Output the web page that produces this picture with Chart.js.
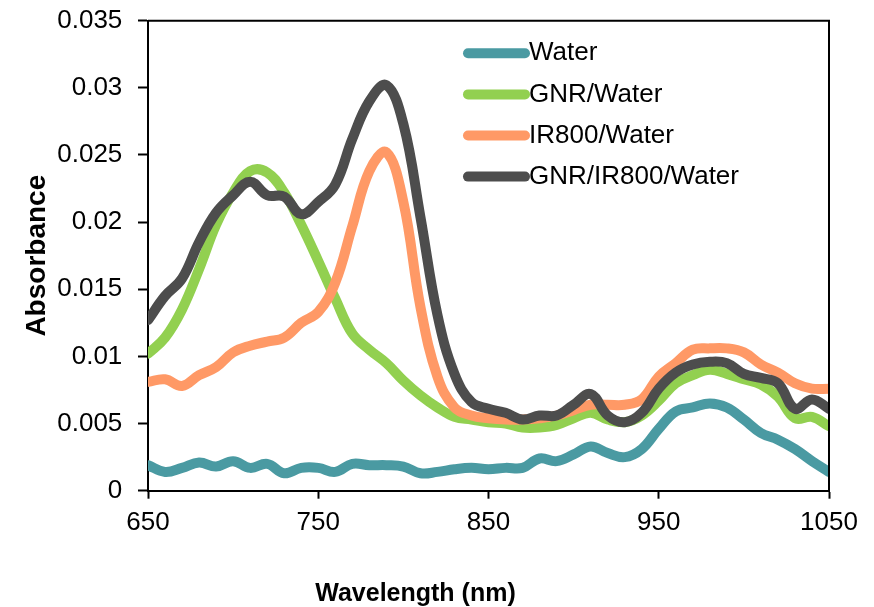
<!DOCTYPE html>
<html>
<head>
<meta charset="utf-8">
<title>Absorbance spectra</title>
<script src="https://cdn.jsdelivr.net/npm/chart.js@4.4.1/dist/chart.umd.min.js"></script>
<style>
  html, body { margin: 0; padding: 0; background: #ffffff; }
  #wrap { width: 874px; height: 607px; position: relative; }
</style>
</head>
<body>
<div id="wrap"><canvas id="chart" width="874" height="607"></canvas></div>
<script>
// Wavelength grid (nm)
const wavelengths = [650, 660, 670, 680, 690, 700, 710, 720, 730, 740,
                     750, 760, 770, 780, 790, 800, 810, 820, 830, 840,
                     850, 860, 870, 880, 890, 900, 910, 920, 930, 940,
                     950, 960, 970, 980, 990, 1000, 1010, 1020, 1030, 1040, 1050];

// Absorbance of each sample
const water = [0.0019, 0.0014, 0.0017, 0.0021, 0.0018, 0.0022, 0.0017, 0.0020, 0.0013, 0.0017,
               0.0017, 0.0014, 0.0020, 0.0019, 0.0019, 0.0018, 0.0013, 0.0014, 0.0016, 0.0017,
               0.0016, 0.0017, 0.0017, 0.0024, 0.0022, 0.0027, 0.0033, 0.0028, 0.0025, 0.0031,
               0.0046, 0.0059, 0.0062, 0.0065, 0.0062, 0.0053, 0.0043, 0.0038, 0.0031, 0.0022, 0.0014];

const gnrWater = [0.0102, 0.0114, 0.0135, 0.0165, 0.0198, 0.0222, 0.0238, 0.0237, 0.0222, 0.0198,
                  0.0171, 0.0143, 0.0117, 0.0105, 0.0095, 0.0082, 0.0071, 0.0062, 0.0055, 0.0053,
                  0.0051, 0.0050, 0.0047, 0.0047, 0.0049, 0.0054, 0.0058, 0.0053, 0.0051, 0.0056,
                  0.0067, 0.0080, 0.0086, 0.0090, 0.0087, 0.0083, 0.0079, 0.0070, 0.0054, 0.0055, 0.0048];

const ir800Water = [0.0081, 0.0083, 0.0078, 0.0086, 0.0092, 0.0103, 0.0108, 0.0111, 0.0114, 0.0125,
                    0.0133, 0.0155, 0.0197, 0.0238, 0.0252, 0.0215, 0.0137, 0.0085, 0.0062, 0.0056,
                    0.0054, 0.0053, 0.0053, 0.0054, 0.0056, 0.0060, 0.0064, 0.0064, 0.0064, 0.0068,
                    0.0085, 0.0095, 0.0105, 0.0106, 0.0106, 0.0103, 0.0094, 0.0088, 0.0080, 0.0076, 0.0076];

const gnrIr800Water = [0.0127, 0.0145, 0.0158, 0.0185, 0.0207, 0.0220, 0.0230, 0.0220, 0.0219, 0.0206,
                       0.0215, 0.0228, 0.0262, 0.0290, 0.0302, 0.0273, 0.0204, 0.0131, 0.0087, 0.0066,
                       0.0061, 0.0058, 0.0053, 0.0056, 0.0056, 0.0064, 0.0072, 0.0056, 0.0051, 0.0058,
                       0.0076, 0.0088, 0.0094, 0.0096, 0.0095, 0.0087, 0.0084, 0.0080, 0.0061, 0.0068, 0.0061];

const seriesNames = ['Water', 'GNR/Water', 'IR800/Water', 'GNR/IR800/Water'];

// Axis ticks
const xTickValues = [650, 750, 850, 950, 1050];
const xTickLabels = ['650', '750', '850', '950', '1050'];
const yTickValues = [0, 0.005, 0.01, 0.015, 0.02, 0.025, 0.03, 0.035];
const yTickLabels = ['0', '0.005', '0.01', '0.015', '0.02', '0.025', '0.03', '0.035'];

const FONT = "'Liberation Sans', Arial, Helvetica, sans-serif";
const colors = ['#4A9AA2', '#92D050', '#FF9966', '#4D4D4D'];

const toPoints = vals => wavelengths.map((w, i) => ({ x: w, y: vals[i] }));
const allSeries = [water, gnrWater, ir800Water, gnrIr800Water];

const datasets = allSeries.map((vals, i) => ({
  label: seriesNames[i],
  data: toPoints(vals),
  borderColor: colors[i],
  backgroundColor: colors[i],
  borderWidth: 10,
  borderCapStyle: 'round',
  borderJoinStyle: 'round',
  pointRadius: 0,
  pointHoverRadius: 0,
  tension: 0.4,
  fill: false,
  order: allSeries.length - i   // later series are painted on top
}));

// Top and right edges of the plot frame
const framePlugin = {
  id: 'plotFrame',
  afterDraw(chart) {
    const { ctx, chartArea: a } = chart;
    ctx.save();
    ctx.strokeStyle = '#000';
    ctx.lineWidth = 2;
    ctx.beginPath();
    ctx.moveTo(a.left, a.top);
    ctx.lineTo(a.right, a.top);
    ctx.lineTo(a.right, a.bottom);
    ctx.stroke();
    ctx.restore();
  }
};

// Vertical legend inside the plot, one row per dataset
const legendPlugin = {
  id: 'insetLegend',
  afterDraw(chart) {
    const { ctx, chartArea: a } = chart;
    const x0 = a.left + 320, x1 = a.left + 377, textX = a.left + 381;
    const y0 = a.top + 32.6, dy = 41.1;
    ctx.save();
    chart.data.datasets.forEach((ds, i) => {
      const y = y0 + i * dy;
      ctx.strokeStyle = ds.borderColor;
      ctx.lineWidth = 10;
      ctx.lineCap = 'round';
      ctx.beginPath();
      ctx.moveTo(x0, y);
      ctx.lineTo(x1, y);
      ctx.stroke();
      ctx.fillStyle = '#000';
      ctx.font = '26px ' + FONT;
      ctx.textAlign = 'left';
      ctx.textBaseline = 'middle';
      ctx.fillText(ds.label, textX, y);
    });
    ctx.restore();
  }
};

// Horizontal axis title
const xTitlePlugin = {
  id: 'xTitle',
  afterDraw(chart) {
    const { ctx } = chart;
    ctx.save();
    ctx.fillStyle = '#000';
    ctx.font = 'bold 25px ' + FONT;
    ctx.textAlign = 'center';
    ctx.textBaseline = 'middle';
    ctx.fillText('Wavelength (nm)', 415.5, 594);
    ctx.restore();
  }
};

new Chart(document.getElementById('chart'), {
  type: 'line',
  data: { datasets },
  options: {
    responsive: false,
    animation: false,
    layout: { padding: { top: 20.7, right: 45, bottom: 0, left: 0 } },
    plugins: {
      legend: { display: false },
      tooltip: { enabled: false },
      title: { display: false }
    },
    scales: {
      x: {
        type: 'linear',
        min: 650,
        max: 1050,
        afterBuildTicks: s => { s.ticks = xTickValues.map(v => ({ value: v })); },
        afterFit: s => { s.height = 116.3; },
        ticks: {
          color: '#000',
          font: { family: FONT, size: 26 },
          padding: 9,
          maxRotation: 0,
          callback: v => xTickLabels[xTickValues.indexOf(v)]
        },
        grid: {
          display: true,
          drawOnChartArea: false,
          drawTicks: true,
          tickLength: 8,
          tickWidth: 2,
          tickColor: '#000'
        },
        border: { display: true, color: '#000', width: 2 }
      },
      y: {
        type: 'linear',
        min: 0,
        max: 0.035,
        afterBuildTicks: s => { s.ticks = yTickValues.map(v => ({ value: v })); },
        afterFit: s => { s.width = 148; s.paddingTop = 0; s.paddingBottom = 0; },
        ticks: {
          color: '#000',
          font: { family: FONT, size: 26 },
          padding: 15.7,
          callback: v => {
            const i = yTickValues.findIndex(t => Math.abs(t - v) < 1e-9);
            return i >= 0 ? yTickLabels[i] : '';
          }
        },
        grid: {
          display: true,
          drawOnChartArea: false,
          drawTicks: true,
          tickLength: 10,
          tickWidth: 2,
          tickColor: '#000'
        },
        border: { display: true, color: '#000', width: 2 },
        title: {
          display: true,
          text: 'Absorbance',
          color: '#000',
          font: { family: FONT, size: 28, weight: 'bold' },
          padding: { top: 20, bottom: 0 }
        }
      }
    }
  },
  plugins: [framePlugin, legendPlugin, xTitlePlugin]
});
</script>
</body>
</html>
